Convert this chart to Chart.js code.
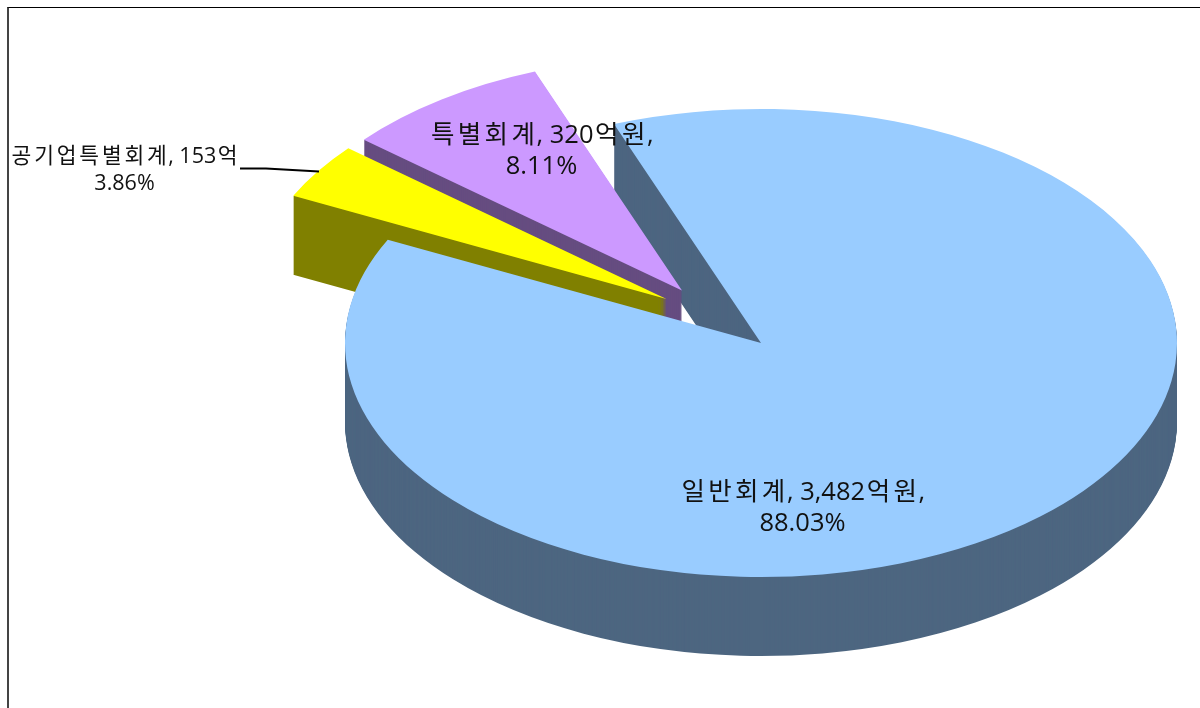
<!DOCTYPE html>
<html lang="ko">
<head>
<meta charset="utf-8">
<title>회계별 예산</title>
<script src="https://cdn.jsdelivr.net/npm/chart.js@4/dist/chart.umd.min.js"></script>
<style>
  html, body { margin: 0; padding: 0; background: #fff; overflow: hidden; }
  #wrap { position: relative; width: 1200px; height: 708px; }
  #frame { position: absolute; left: 7px; top: 7px; right: 0; bottom: 0; border-top: 1px solid #000; border-left: 2px solid #444; }
  canvas { position: absolute; left: 0; top: 0; }
</style>
</head>
<body>
<div id="wrap">
  <div id="frame"></div>
  <canvas id="chart-budget" width="1200" height="708"></canvas>
</div>
<script>
// Categories and shares, in drawing order round the pie
const categories = ["일반회계", "공기업특별회계", "특별회계"];
const shares = [88.03, 3.86, 8.11];
const topColors = ["#99ccff", "#ffff00", "#cc99ff"];
const wallColors = ["#4d6680", "#808000", "#664d80"];

// Label lines as printed on the picture
const labelLines = [
  ["일반회계, 3,482억원,", "88.03%"],
  ["공기업특별회계, 153억", "3.86%"],
  ["특별회계, 320억원,", "8.11%"],
];

// 3D look: pie is squashed, extruded and the small slices pulled out
const TILT = 0.5625;
const DEPTH = 79;
const RADIUS = 416;
const sliceShift = [[0, 0], [-94.5, -44], [-79, -52.5]];
const paintOrder = [2, 1, 0];
const labelPos = [[802.5, 500, 25.5, 31], [124.5, 163, 21.5, 27], [541.5, 143, 25.5, 31]];

function drawSlice(chart, arc, color, dx, dy) {
  const ctx = chart.ctx;
  const saved = arc.options;
  arc.options = {
    backgroundColor: color, borderColor: color, borderWidth: 0, borderAlign: "center",
    borderDash: [], borderDashOffset: 0, borderJoinStyle: "round", borderRadius: 0,
    circular: true, offset: 0, spacing: 0, selfJoin: false,
  };
  ctx.save();
  ctx.translate(arc.x + dx, arc.y + dy);
  ctx.scale(1, TILT);
  ctx.translate(-arc.x, -arc.y);
  arc.draw(ctx);
  ctx.restore();
  arc.options = saved;
}

// Hangul in the original runs wider than the default glyph advance
function drawLine(ctx, text, x, y, size) {
  const gap = (ch) => (/[\uac00-\ud7a3]/.test(ch) ? size * 0.13 : 0);
  const chars = [...text];
  const total = chars.reduce((w, ch) => w + ctx.measureText(ch).width + gap(ch), 0);
  let cx = x - total / 2;
  chars.forEach((ch) => {
    ctx.fillText(ch, cx + gap(ch) / 2, y);
    cx += ctx.measureText(ch).width + gap(ch);
  });
}

const pie3d = {
  id: "pie3d",
  beforeDatasetDraw(chart) {
    const arcs = chart.getDatasetMeta(0).data;
    // big slice wall goes first, its top goes last
    for (let d = DEPTH; d > 0; d--) drawSlice(chart, arcs[0], wallColors[0], 0, d);
    paintOrder.forEach((i) => {
      const [sx, sy] = sliceShift[i];
      if (i !== 0) {
        for (let d = DEPTH; d > 0; d--) drawSlice(chart, arcs[i], wallColors[i], sx, sy + d);
      }
      drawSlice(chart, arcs[i], topColors[i], sx, sy);
    });
    return false; // everything already painted
  },
  afterDraw(chart) {
    const ctx = chart.ctx;
    // leader line of the yellow slice
    ctx.save();
    ctx.strokeStyle = "#000";
    ctx.lineWidth = 2.2;
    ctx.beginPath();
    ctx.moveTo(240, 168.5);
    ctx.lineTo(266, 168.5);
    ctx.lineTo(319, 171.5);
    ctx.stroke();
    ctx.fillStyle = "#111";
    ctx.textAlign = "left";
    ctx.textBaseline = "alphabetic";
    labelLines.forEach((lines, i) => {
      const [x, y, size, gap] = labelPos[i];
      ctx.font = `${size}px "Open Sans", "Noto Sans CJK KR", sans-serif`;
      lines.forEach((t, n) => drawLine(ctx, t, x, y + n * gap, size));
    });
    ctx.restore();
  },
};

new Chart(document.getElementById("chart-budget"), {
  type: "pie",
  data: {
    labels: categories,
    datasets: [{ data: shares, backgroundColor: topColors, borderWidth: 0, radius: RADIUS, clip: false }],
  },
  options: {
    responsive: false,
    animation: false,
    rotation: -20.7,
    layout: { padding: { left: 322, bottom: 22 } },
    plugins: { legend: { display: false }, tooltip: { enabled: false } },
  },
  plugins: [pie3d],
});
</script>
</body>
</html>
